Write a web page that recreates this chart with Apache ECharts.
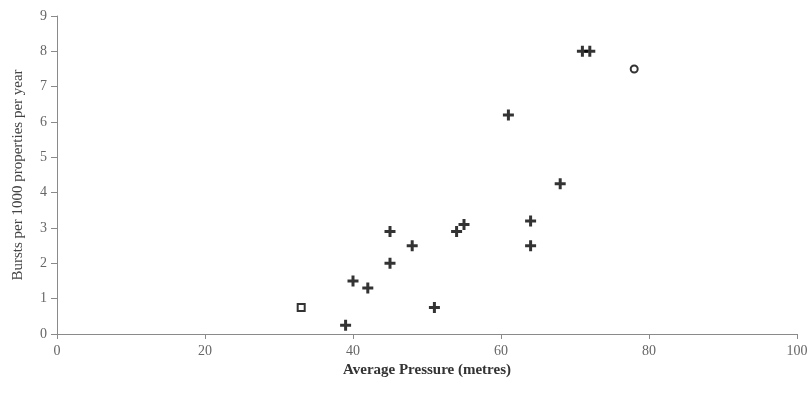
<!DOCTYPE html>
<html><head><meta charset="utf-8">
<script src="https://cdn.jsdelivr.net/npm/echarts@6/dist/echarts.min.js"></script>
<style>html,body{margin:0;padding:0;background:#fff}#c{width:811px;height:406px}</style>
</head><body><div id="c"></div>
<script>
const plusX = [39, 40, 42, 45, 45, 48, 51, 54, 55, 61, 64, 64, 68, 71, 72];
const plusY = [0.25, 1.5, 1.3, 2.9, 2.0, 2.5, 0.75, 2.9, 3.1, 6.2, 3.2, 2.5, 4.25, 8, 8];
const squareX = [33];
const squareY = [0.75];
const circleX = [78];
const circleY = [7.5];
const xTicks = [0, 20, 40, 60, 80, 100];
const yTicks = [0, 1, 2, 3, 4, 5, 6, 7, 8, 9];

const zip = (a, b) => a.map((v, i) => [v, b[i]]);
const font = '"Liberation Serif", "DejaVu Serif", serif';
const axisCol = '#8a8a8a';
const chart = echarts.init(document.getElementById('c'));
chart.setOption({
  animation: false,
  backgroundColor: '#fff',
  grid: {left: 57, right: 14, top: 16, bottom: 72},
  xAxis: {
    type: 'value', min: xTicks[0], max: xTicks[xTicks.length - 1], interval: 20,
    splitLine: {show: false},
    axisLine: {show: true, onZero: false, lineStyle: {color: axisCol, width: 1}},
    name: 'Average Pressure (metres)', nameLocation: 'middle', nameGap: 29,
    nameTextStyle: {fontFamily: font, fontSize: 15, fontWeight: 'bold', color: '#333'},
    axisTick: {show: true, length: 5, lineStyle: {color: axisCol}},
    axisLabel: {fontFamily: font, fontSize: 14, color: '#666', margin: 10}
  },
  yAxis: {
    type: 'value', min: yTicks[0], max: yTicks[yTicks.length - 1], interval: 1,
    splitLine: {show: false},
    axisLine: {show: true, onZero: false, lineStyle: {color: axisCol, width: 1}},
    name: 'Bursts per 1000 properties per year', nameLocation: 'middle', nameGap: 31,
    nameTextStyle: {fontFamily: font, fontSize: 15, color: '#444'},
    axisTick: {show: true, length: 6, lineStyle: {color: axisCol}},
    axisLabel: {fontFamily: font, fontSize: 14, color: '#666', margin: 10}
  },
  series: [
    {
      type: 'scatter', data: zip(plusX, plusY),
      symbol: 'path://M4,0H7V4H11V7H7V11H4V7H0V4H4Z', symbolSize: 11,
      itemStyle: {color: '#000'}
    },
    {
      type: 'scatter', data: zip(squareX, squareY),
      symbol: 'rect', symbolSize: 7,
      itemStyle: {color: '#fff', borderColor: '#000', borderWidth: 2}
    },
    {
      type: 'scatter', data: zip(circleX, circleY),
      symbol: 'circle', symbolSize: 7,
      itemStyle: {color: '#fff', borderColor: '#000', borderWidth: 2}
    }
  ]
});
</script></body></html>
